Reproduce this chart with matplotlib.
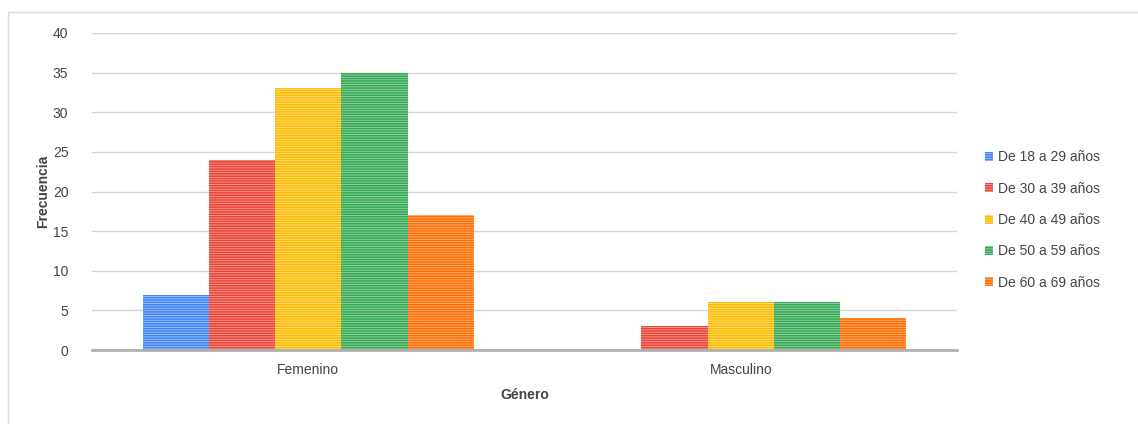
import numpy as np
import matplotlib
matplotlib.use("Agg")
from matplotlib import pyplot as plt
from matplotlib.patches import Rectangle

generos = ["Femenino", "Masculino"]
grupos = ["De 18 a 29 años", "De 30 a 39 años", "De 40 a 49 años",
          "De 50 a 59 años", "De 60 a 69 años"]
edad_18_29 = [7, 0]
edad_30_39 = [24, 3]
edad_40_49 = [33, 6]
edad_50_59 = [35, 6]
edad_60_69 = [17, 4]
series = [edad_18_29, edad_30_39, edad_40_49, edad_50_59, edad_60_69]
colores = ["#4285F4", "#EA4335", "#FBBC04", "#34A853", "#FF6D01"]

plt.rcParams["font.family"] = ["Liberation Sans", "DejaVu Sans"]
plt.rcParams["hatch.color"] = (1, 1, 1, 0.5)
plt.rcParams["hatch.linewidth"] = 0.6

fig = plt.figure(figsize=(11.38, 4.24), dpi=100)
fig.patches.append(Rectangle((8 / 1138, -0.1), 1.2, (412 / 424) + 0.1,
                             transform=fig.transFigure, fill=False,
                             edgecolor="#d9d9d9", linewidth=1))
ax = fig.add_axes([92 / 1138, 74 / 424, 865 / 1138, 317 / 424])

x = np.arange(len(generos))
ancho = 0.153
for i, (vals, col, lab) in enumerate(zip(series, colores, grupos)):
    pos = x + (i - 2) * ancho
    ax.bar(pos, vals, ancho, color=col, label=lab, hatch="-------",
           linewidth=0, zorder=3)

ax.set_xlim(-0.5, 1.5)
ax.set_ylim(0, 40)
ax.set_yticks(range(0, 41, 5))
ax.set_xticks(x)
ax.set_xticklabels(generos)
ax.grid(axis="y", color="#d6d6d6", linewidth=1, zorder=0)
for s in ["top", "right", "left"]:
    ax.spines[s].set_visible(False)
ax.spines["bottom"].set_color("#b0b0b0")
ax.spines["bottom"].set_linewidth(2)
ax.spines["bottom"].set_zorder(4)
ax.tick_params(axis="both", length=0, labelsize=10, labelcolor="#444444")
ax.tick_params(axis="y", pad=17)
ax.tick_params(axis="x", pad=9)

ax.set_ylabel("Frecuencia", fontsize=10, fontweight="bold", color="#444444",
              labelpad=2)
ax.set_xlabel("Género", fontsize=10, fontweight="bold", color="#444444",
              labelpad=8)

ax.legend(loc="center left", bbox_to_anchor=(1.018, 0.41), frameon=False,
          fontsize=10, labelcolor="#444444", handlelength=0.6,
          handleheight=0.6, handletextpad=0.35, labelspacing=1.25)

fig.savefig("out.png", dpi=100)
